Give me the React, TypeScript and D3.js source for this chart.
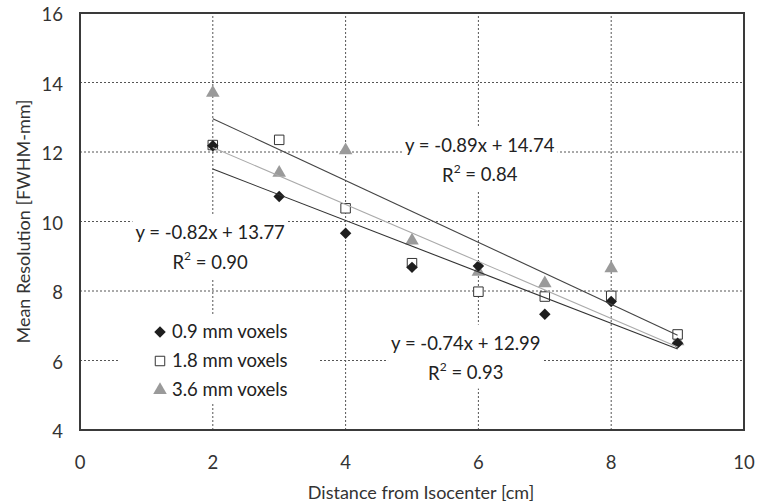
import React, { useRef, useEffect } from 'react';
import * as d3 from 'd3';

// distances (cm)
const distances = [2, 3, 4, 5, 6, 7, 8, 9];

// mean resolution per voxel size (FWHM-mm)
const res09 = [12.18, 10.72, 9.66, 8.68, 8.72, 7.33, 7.7, 6.5];
const res18 = [12.2, 12.35, 10.38, 8.8, 7.98, 7.84, 7.86, 6.75];
const res36 = [13.7, 11.4, 12.05, 9.45, 8.55, 8.22, 8.65, 6.55];

const seriesNames = ['0.9 mm voxels', '1.8 mm voxels', '3.6 mm voxels'];

// linear fits
const fitSlopes = [-0.74, -0.82, -0.89];
const fitIntercepts = [12.99, 13.77, 14.74];
const fitR2 = ['0.93', '0.90', '0.84'];

const xTicks = [0, 2, 4, 6, 8, 10];
const yTicks = [4, 6, 8, 10, 12, 14, 16];

const FONT = 'Lato, "Open Sans", sans-serif';
const FS = 18.5;

const App = () => {
    const svgRef = useRef<SVGSVGElement>(null);

    useEffect(() => {
        document.body.style.margin = '0';
        const svg = d3.select(svgRef.current);
        svg.selectAll('*').remove();

        const width = 757;
        const height = 504;
        const marginLeft = 80;
        const marginRight = 13;
        const marginTop = 13;
        const marginBottom = 74;

        svg.attr('width', width).attr('height', height)
            .style('font-family', FONT)
            .style('display', 'block');

        const x = d3.scaleLinear().domain([0, 10]).range([marginLeft, width - marginRight]);
        const y = d3.scaleLinear().domain([4, 16]).range([height - marginBottom, marginTop]);

        // gridlines (dotted)
        const grid = svg.append('g').attr('stroke', '#555').attr('stroke-width', 1)
            .attr('stroke-dasharray', '2,2');
        grid.selectAll('line.v').data(xTicks.slice(1, -1)).join('line')
            .attr('x1', d => x(d)).attr('x2', d => x(d))
            .attr('y1', y(4)).attr('y2', y(16));
        grid.selectAll('line.h').data(yTicks.slice(1, -1)).join('line')
            .attr('class', 'h')
            .attr('x1', x(0)).attr('x2', x(10))
            .attr('y1', d => y(d)).attr('y2', d => y(d));

        // text boxes (white backgrounds hide gridlines like the original)
        const boxes = svg.append('g');
        const labels = svg.append('g');

        const series = [res09, res18, res36].map((vals, i) => ({
            name: seriesNames[i],
            points: distances.map((d, j) => ({ x: d, y: vals[j] })),
        }));

        const diamond = d3.symbol().type(d3.symbolSquare).size(66);
        const square = d3.symbol().type(d3.symbolSquare).size(90);
        const triangle = d3.symbol().type(d3.symbolTriangle).size(80);

        // markers: triangles, squares, then diamonds on top
        svg.append('g').selectAll('path').data(series[2].points).join('path')
            .attr('d', triangle()).attr('fill', '#9a9a9a')
            .attr('transform', d => `translate(${x(d.x)},${y(d.y)})`);
        svg.append('g').selectAll('path').data(series[1].points).join('path')
            .attr('d', square()).attr('fill', '#fff').attr('stroke', '#333').attr('stroke-width', 1)
            .attr('transform', d => `translate(${x(d.x)},${y(d.y)})`);
        svg.append('g').selectAll('path').data(series[0].points).join('path')
            .attr('d', diamond()).attr('fill', '#1e1e1e')
            .attr('transform', d => `translate(${x(d.x)},${y(d.y)}) rotate(45)`);

        // trend lines
        const fitColors = ['#333', '#aaa', '#444'];
        svg.append('g').selectAll('line').data(fitSlopes).join('line')
            .attr('x1', x(2)).attr('x2', x(9))
            .attr('y1', (m, i) => y(m * 2 + fitIntercepts[i]))
            .attr('y2', (m, i) => y(m * 9 + fitIntercepts[i]))
            .attr('stroke', (_, i) => fitColors[i]).attr('stroke-width', 1.1);

        // equation labels: [cx, line1 y] in data units
        const eqAnchors = [[5.81, 6.5], [1.96, 9.67], [6.02, 12.2]];
        eqAnchors.forEach(([cx, cy], i) => {
            const g = labels.append('g');
            const m = fitSlopes[i].toFixed(2);
            g.append('text').attr('x', x(cx)).attr('y', y(cy)).attr('dy', '0.35em')
                .attr('text-anchor', 'middle').attr('font-size', FS).attr('fill', '#222')
                .text(`y = ${m}x + ${fitIntercepts[i].toFixed(2)}`);
            const r = g.append('text').attr('x', x(cx)).attr('y', y(cy) + 30).attr('dy', '0.35em')
                .attr('text-anchor', 'middle').attr('font-size', FS).attr('fill', '#222');
            r.append('tspan').text('R');
            r.append('tspan').attr('font-size', 12).attr('dy', '-0.75em').text('2');
            r.append('tspan').attr('dy', '0.48em').text(` = ${fitR2[i]}`);
            const bb = (g.node() as SVGGElement).getBBox();
            boxes.append('rect').attr('x', bb.x - 3).attr('y', bb.y - 7)
                .attr('width', bb.width + 6).attr('height', bb.height + 12).attr('fill', '#fff');
        });

        // legend
        const legend = labels.append('g');
        const legendX = 160;
        const legendY = [332, 361, 390];
        const legendSym = [
            (g) => g.append('path').attr('d', diamond()).attr('fill', '#1e1e1e').attr('transform', 'rotate(45)'),
            (g) => g.append('path').attr('d', square()).attr('fill', '#fff').attr('stroke', '#333'),
            (g) => g.append('path').attr('d', triangle()).attr('fill', '#9a9a9a'),
        ];
        seriesNames.forEach((name, i) => {
            const g = legend.append('g').attr('transform', `translate(${legendX},${legendY[i]})`);
            legendSym[i](g);
            g.append('text').attr('x', 12).attr('dy', '0.35em').attr('font-size', FS).attr('fill', '#222')
                .text(name);
        });
        boxes.append('rect').attr('x', 120).attr('y', 315).attr('width', 198).attr('height', 88).attr('fill', '#fff');

        // frame
        svg.append('rect').attr('x', x(0)).attr('y', y(16))
            .attr('width', x(10) - x(0)).attr('height', y(4) - y(16))
            .attr('fill', 'none').attr('stroke', '#3a3a3a').attr('stroke-width', 2);

        // tick labels
        svg.append('g').selectAll('text').data(xTicks).join('text')
            .attr('x', d => x(d)).attr('y', y(4) + 33).attr('dy', '0.35em')
            .attr('text-anchor', 'middle').attr('font-size', FS).attr('fill', '#333')
            .text(d => d);
        svg.append('g').selectAll('text').data(yTicks).join('text')
            .attr('x', 63).attr('y', d => y(d) + 2).attr('dy', '0.35em')
            .attr('text-anchor', 'end').attr('font-size', FS).attr('fill', '#333')
            .text(d => d);

        // axis titles
        svg.append('text').attr('x', 421).attr('y', 493).attr('dy', '0.35em')
            .attr('text-anchor', 'middle').attr('font-size', 18).attr('fill', '#333')
            .text('Distance from Isocenter [cm]');
        svg.append('text').attr('transform', `translate(24,${(y(4) + y(16)) / 2}) rotate(-90)`)
            .attr('dy', '0.35em').attr('text-anchor', 'middle').attr('font-size', 18).attr('fill', '#333')
            .text('Mean Resolution [FWHM-mm]');
    }, []);

    return <svg ref={svgRef}></svg>;
};

export default App;
